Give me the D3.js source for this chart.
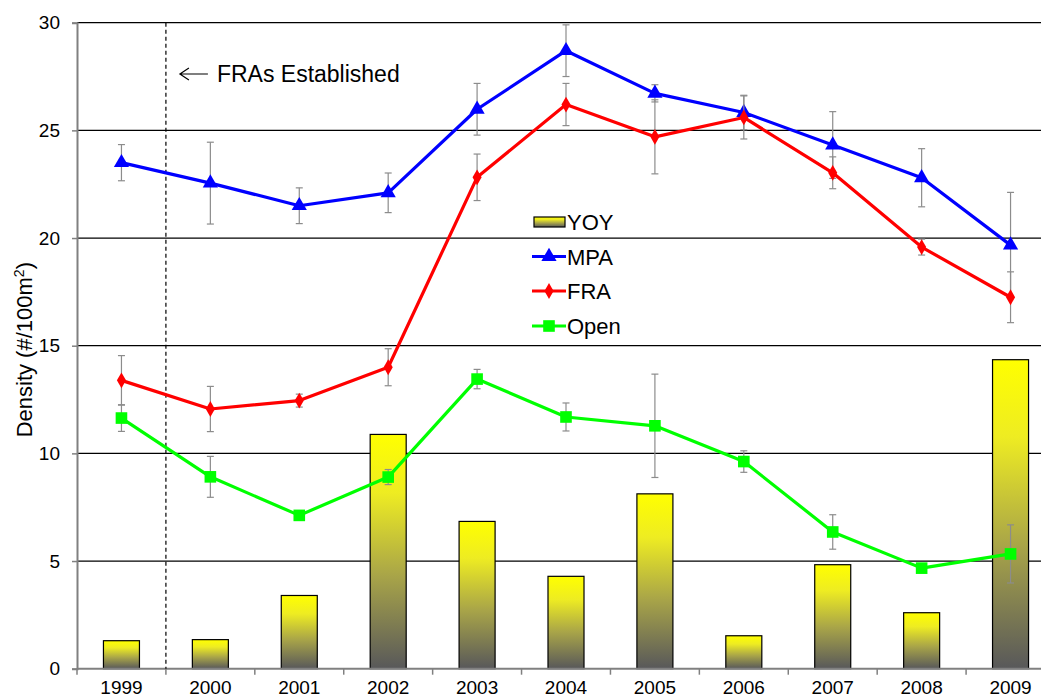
<!DOCTYPE html>
<html>
<head>
<meta charset="utf-8">
<script src="https://cdn.jsdelivr.net/npm/d3@7"></script>
<style>
  html, body { margin: 0; padding: 0; background: #fff; }
  svg { display: block; font-family: "Liberation Sans", Arial, sans-serif; }
</style>
</head>
<body>
<svg id="chart" width="1041" height="698"></svg>
<script>
// Survey years
const years = ["1999","2000","2001","2002","2003","2004","2005","2006","2007","2008","2009"];

// Young-of-year density (bars)
const yoy = [1.3, 1.35, 3.4, 10.88, 6.84, 4.29, 8.12, 1.53, 4.83, 2.6, 14.35];

// Density by zone, with standard-error half widths
const mpa    = [23.5, 22.55, 21.5, 22.1, 25.98, 28.7, 26.72, 25.83, 24.32, 22.8, 19.67];
const mpaErr = [0.84, 1.9, 0.83, 0.92, 1.2, 1.2, 0.4, 0.8, 1.55, 1.35, 2.45];

const fra    = [13.39, 12.06, 12.45, 14.0, 22.82, 26.2, 24.7, 25.6, 23.03, 19.58, 17.25];
const fraErr = [1.15, 1.05, 0.3, 0.86, 1.08, 0.98, 1.72, 1.0, 0.74, 0.37, 1.18];

const open    = [11.64, 8.91, 7.12, 8.9, 13.45, 11.69, 11.28, 9.62, 6.35, 4.67, 5.33];
const openErr = [0.62, 0.95, 0.1, 0.35, 0.45, 0.65, 2.4, 0.5, 0.8, 0.15, 1.35];

const yTicks = [0, 5, 10, 15, 20, 25, 30];

const svg = d3.select("#chart");
const plotLeft = 77, plotTop = 22.7, plotBottom = 668.7, plotRight = 1055;

const x = d3.scaleBand().domain(years).range([plotLeft, plotRight]).padding(0);
const y = d3.scaleLinear().domain([0, 30]).range([plotBottom, plotTop]);
const cx = d => x(d) + x.bandwidth() / 2;

// Bar gradient: yellow at top fading to dark grey at the base
const defs = svg.append("defs");
const grad = defs.append("linearGradient").attr("id", "yoyGrad")
  .attr("x1", 0).attr("y1", 0).attr("x2", 0).attr("y2", 1);
grad.append("stop").attr("offset", "0%").attr("stop-color", "#ffff00");
grad.append("stop").attr("offset", "25%").attr("stop-color", "#eeec22");
grad.append("stop").attr("offset", "60%").attr("stop-color", "#a9a548");
grad.append("stop").attr("offset", "100%").attr("stop-color", "#58585a");

// Horizontal gridlines
svg.append("g").selectAll("line").data(yTicks.filter(t => t > 0)).join("line")
  .attr("x1", plotLeft).attr("x2", 1041)
  .attr("y1", d => y(d)).attr("y2", d => y(d))
  .attr("stroke", "#000").attr("stroke-width", 1.2);

// Y axis
const yAxis = svg.append("g").attr("transform", `translate(${plotLeft},0)`)
  .call(d3.axisLeft(y).tickValues(yTicks).tickSize(5).tickPadding(12));
yAxis.select(".domain").attr("stroke", "#808080").attr("stroke-width", 2);
yAxis.selectAll(".tick line").attr("stroke", "#808080").attr("stroke-width", 1.5);
yAxis.selectAll(".tick text").attr("fill", "#000")
  .style("font-size", "19px").style("font-family", "Liberation Sans, Arial, sans-serif");

// Y axis title
svg.append("text")
  .attr("transform", `translate(32,${(plotTop + plotBottom) / 2 + 4}) rotate(-90)`)
  .attr("text-anchor", "middle")
  .style("font-size", "22px").attr("fill", "#000")
  .html('Density (#/100m<tspan dy="-8" font-size="14px">2</tspan><tspan dy="8">)</tspan>');

// YOY bars
const barW = x.bandwidth() * 0.405;
svg.append("g").selectAll("rect").data(years).join("rect")
  .attr("x", d => cx(d) - barW / 2)
  .attr("width", barW)
  .attr("y", (d, i) => y(yoy[i]))
  .attr("height", (d, i) => plotBottom - y(yoy[i]))
  .attr("fill", "url(#yoyGrad)")
  .attr("stroke", "#000").attr("stroke-width", 1.2);

// Bottom axis line with category boundary ticks
svg.append("line").attr("x1", plotLeft).attr("x2", 1041)
  .attr("y1", plotBottom).attr("y2", plotBottom)
  .attr("stroke", "#808080").attr("stroke-width", 2);
const bounds = years.map(d => x(d)).concat([x(years[years.length - 1]) + x.bandwidth()]);
svg.append("g").selectAll("line").data(bounds).join("line")
  .attr("x1", d => d).attr("x2", d => d)
  .attr("y1", plotBottom).attr("y2", plotBottom + 6)
  .attr("stroke", "#808080").attr("stroke-width", 1.5);
svg.append("g").selectAll("text").data(years).join("text")
  .attr("x", d => cx(d)).attr("y", 694)
  .attr("text-anchor", "middle")
  .style("font-size", "19px").attr("fill", "#000")
  .text(d => d);

// Dashed marker where FRAs were established
svg.append("line")
  .attr("x1", x("2000")).attr("x2", x("2000"))
  .attr("y1", plotTop).attr("y2", plotBottom)
  .attr("stroke", "#000").attr("stroke-width", 1.2)
  .attr("stroke-dasharray", "4,3");
const ax = x("2000") + 14, ay = 74;
svg.append("path")
  .attr("d", `M${ax + 28},${ay} L${ax},${ay} M${ax + 9},${ay - 6} L${ax},${ay} L${ax + 9},${ay + 6}`)
  .attr("fill", "none").attr("stroke", "#000").attr("stroke-width", 1.2);
svg.append("text").attr("x", ax + 37).attr("y", ay + 8)
  .style("font-size", "23px").attr("fill", "#000")
  .text("FRAs Established");

// Marker shapes
const symbolFor = {
  tri: d3.symbol().type(d3.symbolTriangle).size(100),
  dia: d3.symbol().type(d3.symbolDiamond).size(72),
  sq:  d3.symbol().type(d3.symbolSquare).size(135)
};

const series = [
  { name: "MPA",  vals: mpa,  err: mpaErr,  color: "#0000ff", sym: "tri" },
  { name: "FRA",  vals: fra,  err: fraErr,  color: "#ff0000", sym: "dia" },
  { name: "Open", vals: open, err: openErr, color: "#00ff00", sym: "sq" }
];

const line = d3.line().x((d, i) => cx(years[i])).y(d => y(d));

series.forEach(s => {
  const g = svg.append("g");
  g.append("path").datum(s.vals)
    .attr("d", line).attr("fill", "none")
    .attr("stroke", s.color).attr("stroke-width", 3.2)
    .attr("stroke-linejoin", "round");
  // Error bars
  const eb = g.append("g").attr("stroke", "#8c8c8c").attr("stroke-width", 1.2);
  years.forEach((yr, i) => {
    const hi = y(s.vals[i] + s.err[i]), lo = y(s.vals[i] - s.err[i]), xc = cx(yr);
    eb.append("line").attr("x1", xc).attr("x2", xc).attr("y1", hi).attr("y2", lo);
    eb.append("line").attr("x1", xc - 3.5).attr("x2", xc + 3.5).attr("y1", hi).attr("y2", hi);
    eb.append("line").attr("x1", xc - 3.5).attr("x2", xc + 3.5).attr("y1", lo).attr("y2", lo);
  });
  g.append("g").selectAll("path").data(s.vals).join("path")
    .attr("d", symbolFor[s.sym])
    .attr("transform", (d, i) => `translate(${cx(years[i])},${y(d)})`)
    .attr("fill", s.color);
});

// Legend
const lgX = 532, lgY = 222, lgStep = 34.5;
const lg = svg.append("g");
lg.append("rect").attr("x", lgX + 2).attr("y", lgY - 5).attr("width", 31).attr("height", 10)
  .attr("fill", "url(#yoyGrad)").attr("stroke", "#000").attr("stroke-width", 1.2);
lg.append("text").attr("x", lgX + 35).attr("y", lgY + 8)
  .style("font-size", "22px").attr("fill", "#000").text("YOY");
series.forEach((s, k) => {
  const ry = lgY + lgStep * (k + 1) - (k === 2 ? -0.5 : 0);
  lg.append("line").attr("x1", lgX).attr("x2", lgX + 34).attr("y1", ry).attr("y2", ry)
    .attr("stroke", s.color).attr("stroke-width", 3.2);
  lg.append("path").attr("d", symbolFor[s.sym])
    .attr("transform", `translate(${lgX + 17},${ry})`).attr("fill", s.color);
  lg.append("text").attr("x", lgX + 35).attr("y", ry + 8)
    .style("font-size", "22px").attr("fill", "#000").text(s.name);
});
</script>
</body>
</html>
